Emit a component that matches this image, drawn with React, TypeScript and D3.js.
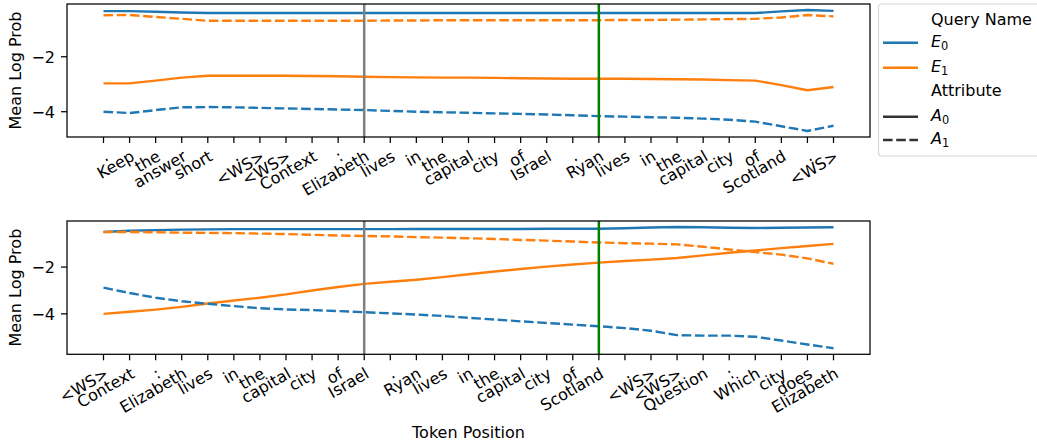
import React from "react";
import * as d3 from "d3";

const tokensTop = [".", "Keep", "the", "answer", "short", ".", "<WS>", "<WS>", "Context", ":", "Elizabeth", "lives", "in", "the", "capital", "city", "of", "Israel", ".", "Ryan", "lives", "in", "the", "capital", "city", "of", "Scotland", ".", "<WS>"];
const tokensBottom = ["<WS>", "Context", ":", "Elizabeth", "lives", "in", "the", "capital", "city", "of", "Israel", ".", "Ryan", "lives", "in", "the", "capital", "city", "of", "Scotland", ".", "<WS>", "<WS>", "Question", ":", "Which", "city", "does", "Elizabeth"];

// Top panel series
const topE0A0 = [-0.34, -0.34, -0.36, -0.39, -0.41, -0.41, -0.41, -0.41, -0.41, -0.41, -0.41, -0.41, -0.41, -0.41, -0.41, -0.41, -0.41, -0.41, -0.41, -0.41, -0.41, -0.41, -0.41, -0.41, -0.41, -0.41, -0.35, -0.30, -0.33];
const topE1A1 = [-0.49, -0.48, -0.55, -0.62, -0.69, -0.69, -0.69, -0.69, -0.69, -0.69, -0.69, -0.68, -0.68, -0.67, -0.67, -0.67, -0.67, -0.67, -0.67, -0.67, -0.66, -0.66, -0.65, -0.64, -0.63, -0.62, -0.57, -0.48, -0.53];
const topE1A0 = [-2.97, -2.97, -2.87, -2.76, -2.69, -2.69, -2.69, -2.69, -2.70, -2.71, -2.73, -2.74, -2.75, -2.76, -2.76, -2.77, -2.78, -2.79, -2.80, -2.80, -2.80, -2.81, -2.82, -2.83, -2.85, -2.87, -3.03, -3.22, -3.10];
const topE0A1 = [-4.00, -4.05, -3.94, -3.84, -3.83, -3.84, -3.86, -3.88, -3.90, -3.92, -3.94, -3.97, -4.00, -4.02, -4.04, -4.06, -4.08, -4.10, -4.13, -4.16, -4.18, -4.20, -4.22, -4.25, -4.29, -4.36, -4.53, -4.70, -4.51];

// Bottom panel series
const botE0A0 = [-0.50, -0.45, -0.42, -0.40, -0.39, -0.38, -0.38, -0.38, -0.38, -0.38, -0.38, -0.38, -0.37, -0.37, -0.37, -0.37, -0.37, -0.36, -0.36, -0.36, -0.34, -0.31, -0.29, -0.30, -0.32, -0.33, -0.32, -0.31, -0.30];
const botE1A1 = [-0.50, -0.50, -0.51, -0.53, -0.54, -0.55, -0.57, -0.59, -0.62, -0.65, -0.67, -0.69, -0.72, -0.74, -0.77, -0.80, -0.84, -0.87, -0.91, -0.95, -0.98, -1.00, -1.03, -1.13, -1.25, -1.36, -1.47, -1.63, -1.86];
const botE1A0 = [-4.00, -3.91, -3.82, -3.70, -3.56, -3.43, -3.31, -3.17, -3.00, -2.85, -2.72, -2.63, -2.54, -2.43, -2.31, -2.19, -2.08, -1.98, -1.89, -1.81, -1.74, -1.68, -1.61, -1.50, -1.39, -1.29, -1.19, -1.10, -1.01];
const botE0A1 = [-2.88, -3.11, -3.31, -3.46, -3.57, -3.67, -3.76, -3.81, -3.84, -3.88, -3.93, -3.98, -4.03, -4.09, -4.17, -4.24, -4.32, -4.39, -4.46, -4.53, -4.61, -4.72, -4.91, -4.93, -4.93, -4.98, -5.14, -5.31, -5.47];

const yTicks = [-2, -4];
const grayLineIdx = 10;
const greenLineIdx = 19;

const BLUE = "#1f77b4";
const ORANGE = "#ff7f0e";
const FONT = "DejaVu Sans";
const FS = 16;
const LW = 2.4;
const DASH = "9.6,3.6";

type Panel = {
  tokens: string[];
  series: { values: number[]; color: string; dashed: boolean }[];
  top: number;
  bottom: number;
};

const LEFT = 67;
const RIGHT = 870;

function PanelView({ p }: { p: Panel }) {
  const n = p.tokens.length;
  const x = d3.scaleLinear().domain([-0.05 * (n - 1), (n - 1) * 1.05]).range([LEFT, RIGHT]);
  const all = p.series.flatMap((s) => s.values);
  const mn = d3.min(all)!;
  const mx = d3.max(all)!;
  const pad = (mx - mn) * 0.05;
  const y = d3.scaleLinear().domain([mn - pad, mx + pad]).range([p.bottom, p.top]);
  const line = d3
    .line<number>()
    .x((_, i) => x(i))
    .y((d) => y(d));
  const idx = d3.range(n);
  return (
    <g>
      {p.series.map((s, k) => (
        <path
          key={k}
          d={line(s.values) || ""}
          fill="none"
          stroke={s.color}
          strokeWidth={LW}
          strokeDasharray={s.dashed ? DASH : undefined}
          strokeLinejoin="round"
        />
      ))}
      <line x1={x(grayLineIdx)} x2={x(grayLineIdx)} y1={p.top} y2={p.bottom} stroke="gray" strokeWidth={2.5} />
      <line x1={x(greenLineIdx)} x2={x(greenLineIdx)} y1={p.top} y2={p.bottom} stroke="green" strokeWidth={2.5} />
      <rect x={LEFT} y={p.top} width={RIGHT - LEFT} height={p.bottom - p.top} fill="none" stroke="black" strokeWidth={1.25} />
      {idx.map((i) => (
        <g key={i}>
          <line x1={x(i)} x2={x(i)} y1={p.bottom} y2={p.bottom + 6} stroke="black" strokeWidth={1.25} />
          <text
            transform={`translate(${x(i) + 6},${p.bottom + 22.5}) rotate(-30)`}
            textAnchor="end"
            fontFamily={FONT}
            fontSize={FS}
          >
            {p.tokens[i]}
          </text>
        </g>
      ))}
      {yTicks.map((t) => (
        <g key={t}>
          <line x1={LEFT - 6} x2={LEFT} y1={y(t)} y2={y(t)} stroke="black" strokeWidth={1.25} />
          <text x={LEFT - 12} y={y(t) + 6} textAnchor="end" fontFamily={FONT} fontSize={FS}>
            {"\u2212" + Math.abs(t)}
          </text>
        </g>
      ))}
      <text
        transform={`translate(21,${(p.top + p.bottom) / 2}) rotate(-90)`}
        textAnchor="middle"
        fontFamily={FONT}
        fontSize={FS}
      >
        Mean Log Prob
      </text>
    </g>
  );
}

function MathLabel({ x, y, base, sub }: { x: number; y: number; base: string; sub: string }) {
  return (
    <text x={x} y={y} fontFamily={FONT} fontSize={FS}>
      <tspan fontStyle="italic">{base}</tspan>
      <tspan fontSize={11.4} dy={3.3}>{sub}</tspan>
    </text>
  );
}

export default function App() {
  const panels: Panel[] = [
    {
      tokens: tokensTop,
      top: 4,
      bottom: 137,
      series: [
        { values: topE0A0, color: BLUE, dashed: false },
        { values: topE1A0, color: ORANGE, dashed: false },
        { values: topE0A1, color: BLUE, dashed: true },
        { values: topE1A1, color: ORANGE, dashed: true },
      ],
    },
    {
      tokens: tokensBottom,
      top: 221,
      bottom: 354.3,
      series: [
        { values: botE0A0, color: BLUE, dashed: false },
        { values: botE1A0, color: ORANGE, dashed: false },
        { values: botE0A1, color: BLUE, dashed: true },
        { values: botE1A1, color: ORANGE, dashed: true },
      ],
    },
  ];
  const lx1 = 883;
  const lx2 = 918;
  const tx = 931;
  return (
    <svg
      width={1037}
      height={444}
      style={{ position: "absolute", left: 0, top: 0, background: "white" }}
    >
      <rect x={0} y={0} width={1037} height={444} fill="white" />
      {panels.map((p, i) => (
        <PanelView key={i} p={p} />
      ))}
      <text x={(LEFT + RIGHT) / 2} y={438} textAnchor="middle" fontFamily={FONT} fontSize={FS}>
        Token Position
      </text>
      {/* Legend */}
      <rect x={878.5} y={4} width={200} height={152} rx={3} fill="white" stroke="#d6d6d6" strokeWidth={1.2} />
      <text x={tx} y={24.5} fontFamily={FONT} fontSize={FS}>Query Name</text>
      <line x1={lx1} x2={lx2} y1={42.7} y2={42.7} stroke={BLUE} strokeWidth={LW} />
      <MathLabel x={tx} y={46.7} base="E" sub="0" />
      <line x1={lx1} x2={lx2} y1={67.7} y2={67.7} stroke={ORANGE} strokeWidth={LW} />
      <MathLabel x={tx} y={71.7} base="E" sub="1" />
      <text x={tx} y={95.5} fontFamily={FONT} fontSize={FS}>Attribute</text>
      <line x1={lx1} x2={lx2} y1={116.7} y2={116.7} stroke="#333333" strokeWidth={LW} />
      <MathLabel x={tx} y={120.7} base="A" sub="0" />
      <line x1={lx1} x2={lx2} y1={140} y2={140} stroke="#333333" strokeWidth={LW} strokeDasharray={DASH} />
      <MathLabel x={tx} y={144} base="A" sub="1" />
    </svg>
  );
}
